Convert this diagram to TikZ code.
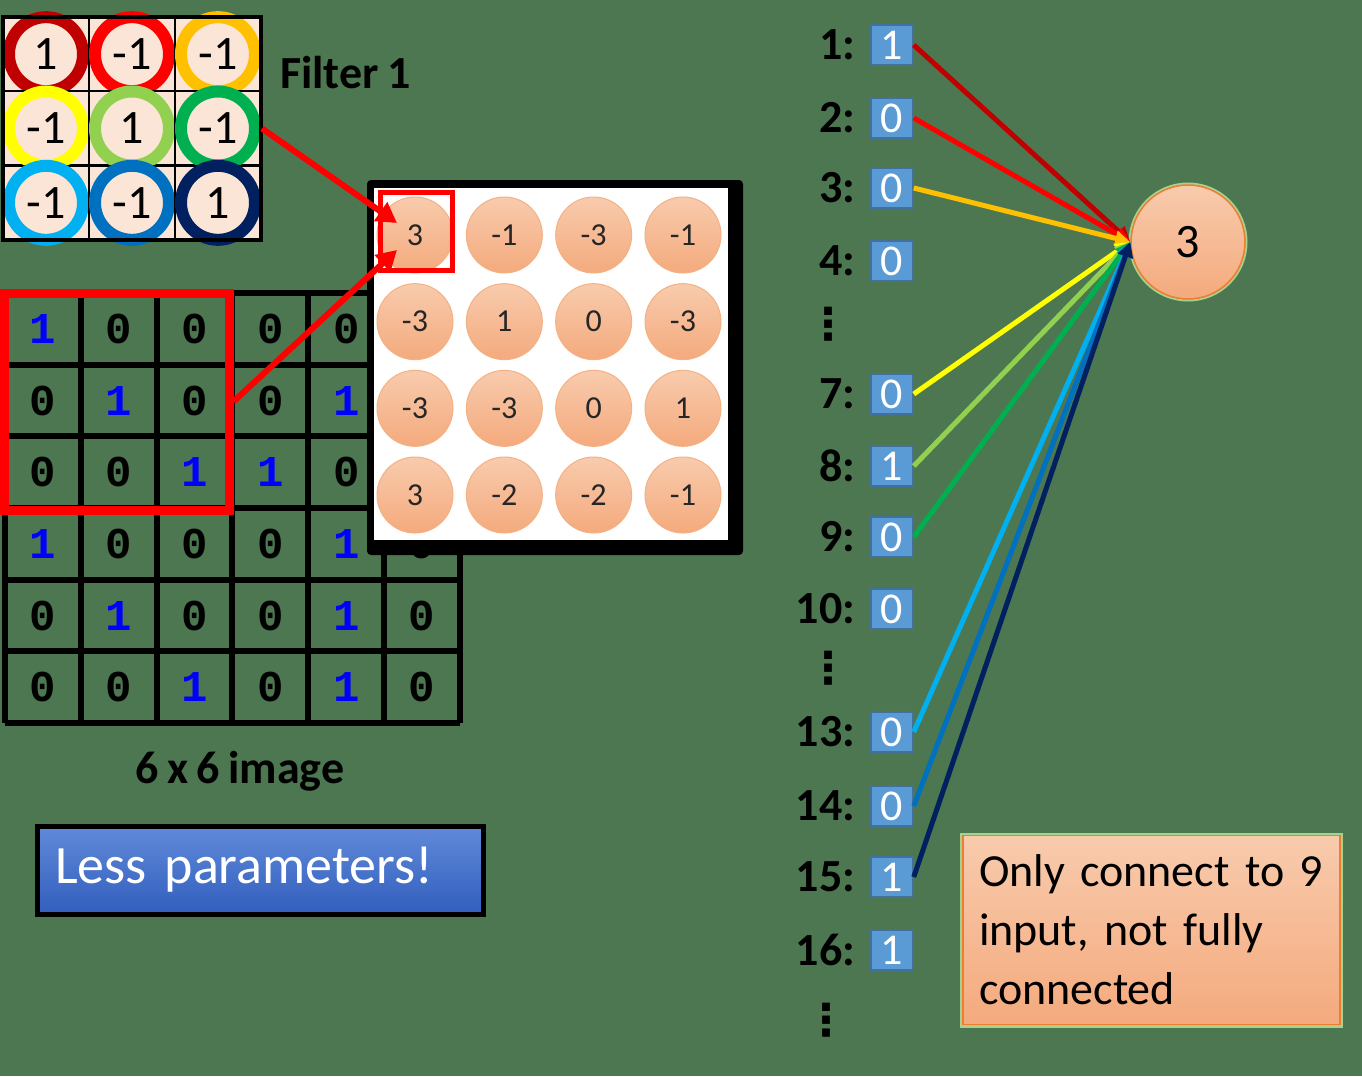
\documentclass[tikz,border=0pt]{standalone}
\usepackage{fontspec}
\setmainfont{Carlito}[WordSpace=0.8]
\newfontfamily\pixelfont{Liberation Mono}
\newfontfamily\dotsfont{DejaVu Sans}
\usetikzlibrary{positioning}
\usetikzlibrary{arrows.meta}
\definecolor{slide-green}{RGB}{77,119,80}
\definecolor{cell-peach}{RGB}{251,229,214}
\definecolor{ring-darkred}{RGB}{192,0,0}
\definecolor{ring-red}{RGB}{255,0,0}
\definecolor{ring-gold}{RGB}{255,192,0}
\definecolor{ring-yellow}{RGB}{255,255,0}
\definecolor{ring-lightgreen}{RGB}{146,208,80}
\definecolor{ring-green}{RGB}{0,176,80}
\definecolor{ring-lightblue}{RGB}{0,176,240}
\definecolor{ring-blue}{RGB}{0,112,192}
\definecolor{ring-navy}{RGB}{0,32,96}
\definecolor{salmon-top}{RGB}{248,203,173}
\definecolor{salmon-bottom}{RGB}{244,170,125}
\definecolor{salmon-edge}{RGB}{237,125,49}
\definecolor{box-blue}{RGB}{91,155,213}
\definecolor{box-edge}{RGB}{65,113,156}
\definecolor{banner-top}{RGB}{96,138,216}
\definecolor{banner-bottom}{RGB}{50,94,190}
\definecolor{glow-green}{RGB}{169,209,142}

\begin{document}
\begin{tikzpicture}[x=1pt, y=-1pt,
    fcell/.style={draw=black, line width=2pt, fill=cell-peach, minimum width=86pt, minimum height=74pt, inner sep=0pt},
    ring/.style={circle, draw=#1, line width=12pt, minimum size=74pt, inner sep=0pt, font=\fontsize{48}{48}\selectfont},
    pix/.style={inner sep=0pt},
    pix1/.style={inner sep=0pt, text=blue, font=\pixelfont\bfseries\fontsize{44}{44}\selectfont},
    pix0/.style={inner sep=0pt, text=black, font=\pixelfont\bfseries\fontsize{44}{44}\selectfont},
    fmdot/.style={circle, top color=salmon-top, bottom color=salmon-bottom, draw=salmon-edge!60, line width=1pt, minimum size=76pt, inner sep=0pt, text=black!85, font=\fontsize{32}{32}\selectfont},
    inbox/.style={draw=box-edge, line width=1.5pt, fill=box-blue, text=white, minimum width=42pt, minimum height=40pt, inner sep=0pt, font=\fontsize{44}{44}\selectfont},
    idx/.style={inner sep=0pt, font=\bfseries\fontsize{46}{46}\selectfont},
    skip/.style={inner sep=0pt, font=\dotsfont\bfseries\fontsize{44}{44}\selectfont},
    heading/.style={inner sep=0pt, font=\bfseries\fontsize{46}{46}\selectfont},
    link/.style={line width=5pt, draw=#1, -{Triangle[length=15pt,width=15pt]}}]
% background
\fill[slide-green] (0,0) rectangle (1362,1076);
\useasboundingbox (0,0) rectangle (1362,1076);

% filter
\foreach \row [count=\i] in {{1/ring-darkred,-1/ring-red,-1/ring-gold},{-1/ring-yellow,1/ring-lightgreen,-1/ring-green},{-1/ring-lightblue,-1/ring-blue,1/ring-navy}}
  \foreach \v/\c [count=\j] in \row {
    \node[fcell] (f\i\j) at (3+86*\j-43, 17+74.33*\i-37.17) {};
    \node[ring=\c] (r\i\j) at (f\i\j) {\v};
  }
\draw[line width=4pt] (3,17) rectangle (261,240);
\node[heading, anchor=base west] (ftitle) at (280,88) {Filter 1};

% 6 x 6 image (last column partly under the feature map)
\foreach \row [count=\i] in {{1,0,0,0,0,},{0,1,0,0,1,},{0,0,1,1,0,},{1,0,0,0,1,0},{0,1,0,0,1,0},{0,0,1,0,1,0}}
  \foreach \v [count=\j] in \row
    \node[pix\v] (px-\i-\j) at (5+75.83*\j-37.92, 293+71.67*\i-35.83) {\v};
\foreach \k in {0,...,6} {
  \draw[line width=6pt] (5+75.83*\k,293) -- (5+75.83*\k,723);
  \draw[line width=6pt] (5,293+71.67*\k) -- (460,293+71.67*\k);
}
\node[heading, anchor=base] (imgcap) at (240,783) {6 x 6 image};
\node[draw=ring-red, line width=9pt, minimum width=225pt, minimum height=217pt, inner sep=0pt] (patch) at (116.5,401.5) {};

% feature map
\fill[black, rounded corners=4pt] (367,180) rectangle (743,555);
\fill[white] (374,188) rectangle (728,540);
\foreach \row [count=\i] in {{3,-1,-3,-1},{-3,1,0,-3},{-3,-3,0,1},{3,-2,-2,-1}}
  \foreach \v [count=\j] in \row
    \node[fmdot] (fm\i\j) at (415+89.33*\j-89.33, 235+86.67*\i-86.67) {\v};
\node[draw=ring-red, line width=5pt, minimum width=72pt, minimum height=78pt, inner sep=0pt] (pick) at (416.5,231.5) {};
\coordinate (hitA) at (397,223);
\coordinate (hitB) at (397,250);
\draw[line width=6pt, ring-red, -{Triangle[length=20pt,width=22pt]}] (f23.east) -- (hitA);
\draw[line width=6pt, ring-red, -{Triangle[length=20pt,width=22pt]}] (patch.east) -- (hitB);

% banner
\node[draw=black, line width=5pt, top color=banner-top, bottom color=banner-bottom, minimum width=446pt, minimum height=88pt, text width=410pt, align=left, inner sep=0pt, text=white, font=\fontsize{54}{54}\selectfont] (less) at (260,870) {Less parameters!};

% output neuron
\node[circle, top color=salmon-top, bottom color=salmon-bottom, draw=salmon-edge, line width=1.5pt, minimum size=114pt, inner sep=0pt, preaction={draw=glow-green, line width=5pt}, font=\fontsize{48}{48}\selectfont] (out) at (1188,242) {3};

% inputs
\foreach \n/\v/\y in {1/1/45, 2/0/118, 3/0/188, 4/0/261, 7/0/394, 8/1/466, 9/0/537, 10/0/609, 13/0/732, 14/0/806, 15/1/877, 16/1/950} {
  \node[inbox] (in\n) at (892,\y) {\v};
  \node[idx, left=15pt of in\n] (idx\n) {\n:};
}
\node[skip] (gap1) at (828,324) {⋮};
\node[skip] (gap2) at (828,668) {⋮};
\node[skip] (gap3) at (826,1020) {⋮};

\foreach \n/\c in {1/ring-darkred, 2/ring-red, 3/ring-gold, 7/ring-yellow, 8/ring-lightgreen, 9/ring-green, 13/ring-lightblue, 14/ring-blue, 15/ring-navy}
  \draw[link=\c] (in\n.east) -- (out.west);

% note
\node[draw=salmon-edge, line width=1.5pt, top color=salmon-top, bottom color=salmon-bottom, preaction={draw=glow-green, line width=6pt}, minimum width=377pt, minimum height=189pt, text width=345pt, align=left, inner sep=0pt, font=\fontsize{46}{59}\selectfont] (note) at (1151.5,930) {Only connect to 9\\input, not fully\\connected};
\end{tikzpicture}
\end{document}
